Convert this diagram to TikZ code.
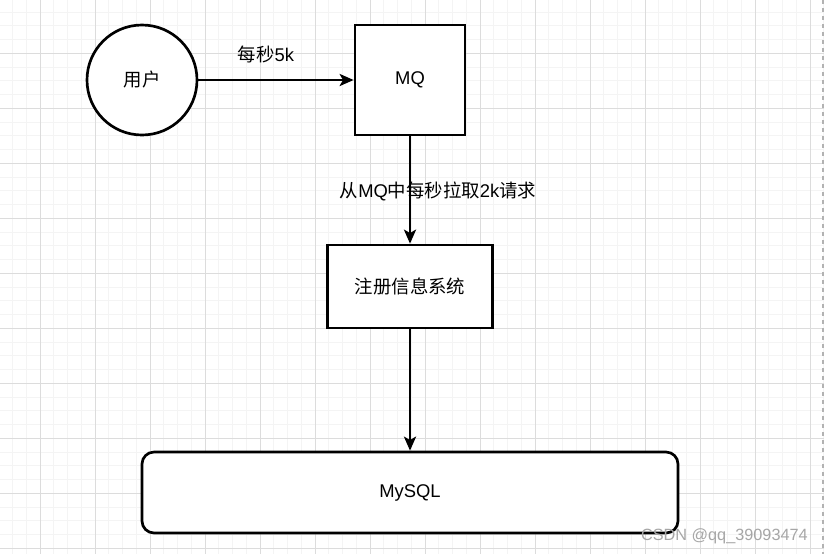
\documentclass[tikz,border=0pt]{standalone}
\usepackage{fontspec}
\setmainfont{Liberation Sans}
\newfontfamily\cjk{Noto Sans CJK SC}
\usetikzlibrary{arrows.meta}
\definecolor{minorline}{HTML}{F4F4F4}
\definecolor{majorline}{HTML}{DCDCDC}
\tikzset{
  box/.style={draw, line width=2pt, fill=white, font=\fontsize{13.8}{16}\selectfont, inner sep=0pt},
  flow/.style={line width=2pt, -{Stealth[length=10.5pt, width=9pt, inset=2.5pt]}},
  lbl/.style={font=\fontsize{13.8}{16}\selectfont, inner sep=0pt}
}
\begin{document}
\begin{tikzpicture}[x=0.75pt, y=-0.75pt]
\useasboundingbox (0,0) rectangle (824,554);
% background grid
\fill[white] (0,0) rectangle (824,554);
\foreach \i in {0,...,60} {
  \draw[minorline, line width=0.75pt] ({-1.25+13.75*\i},0) -- ({-1.25+13.75*\i},554);
}
\foreach \i in {0,...,41} {
  \draw[minorline, line width=0.75pt] (0,{-1.7+13.75*\i}) -- (824,{-1.7+13.75*\i});
}
\foreach \k in {0,...,14} {
  \draw[majorline, line width=0.75pt] ({40+55*\k},0) -- ({40+55*\k},554);
}
\foreach \k in {0,...,9} {
  \draw[majorline, line width=0.75pt] (0,{53.3+55*\k}) -- (824,{53.3+55*\k});
}
\draw[gray!60, line width=1pt, dashed] (823,0) -- (823,554);
% nodes
\node[box, circle, minimum size=82.5pt] (user) at (142,80) {\cjk 用户};
\node[box, minimum width=82.5pt, minimum height=82.5pt] (mq) at (410,80) {MQ};
\node[box, minimum width=123.75pt, minimum height=62.25pt] (reg) at (410,286.5) {\cjk 注册信息系统};
\node[box, rounded corners=9pt, minimum width=402pt, minimum height=60.75pt] (mysql) at (410,492.5) {MySQL};
% connectors
\draw[flow] (user) -- (mq);
\draw[flow] (mq) -- (reg);
\draw[flow] (reg) -- (mysql);
\node[lbl] (rate) at (266,54) {{\cjk 每秒}5k};
\node[lbl] (pull) at (438,191) {{\cjk 从}MQ{\cjk 中每秒拉取}2k{\cjk 请求}};
% watermark
\node[font=\fontsize{12.2}{14}\selectfont, text=gray!70, anchor=east, inner sep=0pt] (mark) at (808,536.5) {CSDN @qq\_39093474};
\end{tikzpicture}
\end{document}
